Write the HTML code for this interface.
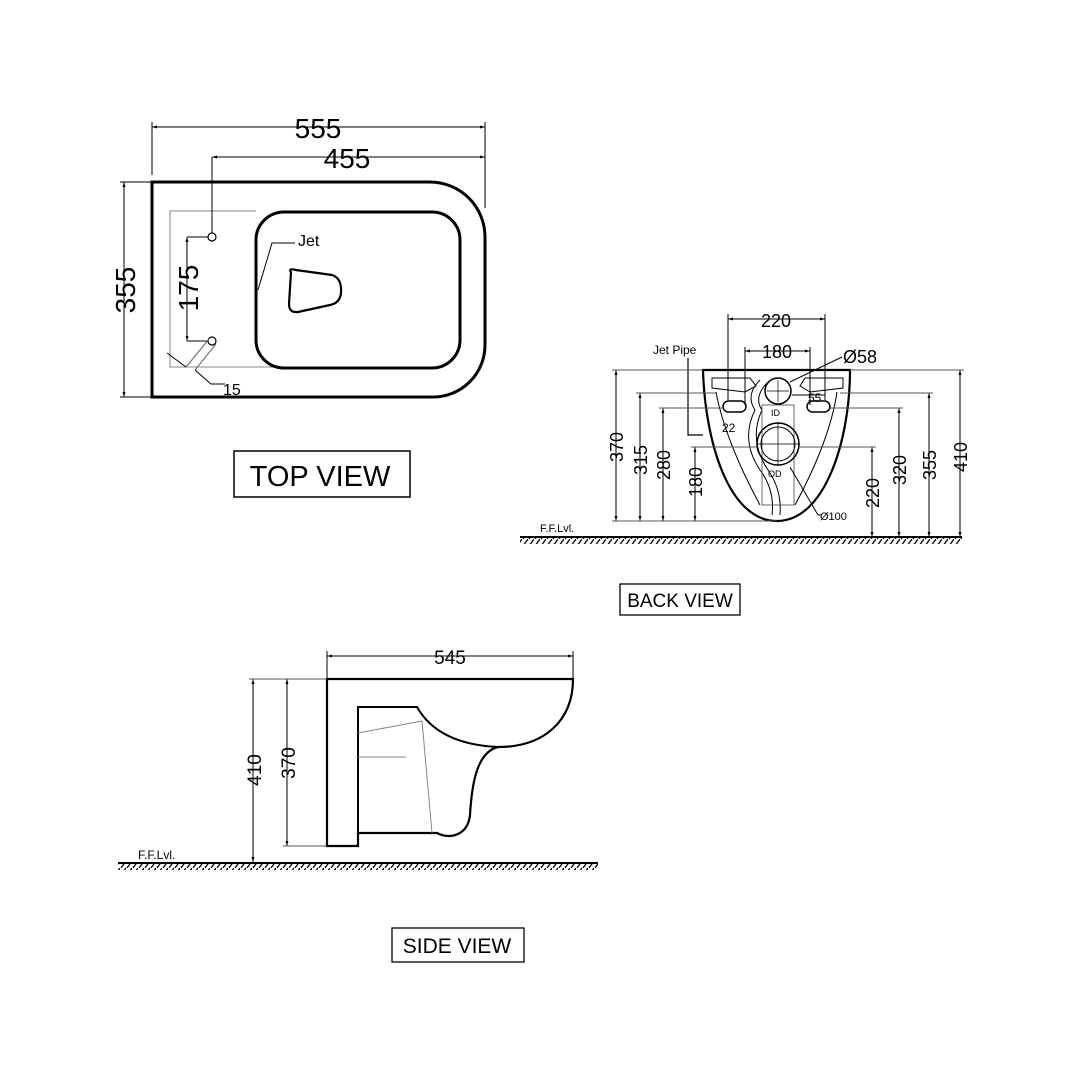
<!DOCTYPE html>
<html><head><meta charset="utf-8"><style>
html,body{margin:0;padding:0;background:#fff}
svg{display:block;font-family:"Liberation Sans",sans-serif}
</style></head><body>
<svg width="1080" height="1080" viewBox="0 0 1080 1080" xmlns="http://www.w3.org/2000/svg">
<defs>
<marker id="a" viewBox="0 0 10 10" refX="10" refY="5" markerWidth="7" markerHeight="5" orient="auto-start-reverse"><path d="M0,2 L10,5 L0,8z" fill="#000"/></marker>
<pattern id="h" width="6" height="7" patternUnits="userSpaceOnUse"><path d="M6,0 L1,7" stroke="#000" stroke-width="1.3"/></pattern>
</defs>
<g fill="none" stroke="#000">
<!-- TOP VIEW -->
<path d="M152,182 H430 A55,55 0 0 1 485,237 V345 A52,52 0 0 1 433,397 H152 Z" stroke-width="3"/>
<path d="M256,211 H170 V367 H290" stroke="#888" stroke-width="1"/>
<rect x="256" y="212" width="204" height="156" rx="28" stroke-width="3"/>
<path d="M291,272 Q288,268 296,270 L332,275 Q342,278 341,293 Q340,303 330,305 L298,312 Q289,313 289,304 Z" stroke-width="2.2"/>
<line x1="152" y1="127" x2="485" y2="127" stroke-width="1" marker-start="url(#a)" marker-end="url(#a)"/>
<line x1="152" y1="122" x2="152" y2="175" stroke-width="1"/>
<line x1="485" y1="122" x2="485" y2="208" stroke-width="1"/>
<line x1="212" y1="157" x2="485" y2="157" stroke-width="1" marker-start="url(#a)" marker-end="url(#a)"/>
<line x1="212" y1="157" x2="212" y2="233" stroke-width="1"/>
<line x1="124" y1="182" x2="124" y2="397" stroke-width="1" marker-start="url(#a)" marker-end="url(#a)"/>
<line x1="120" y1="182" x2="152" y2="182" stroke-width="1"/>
<line x1="120" y1="397" x2="152" y2="397" stroke-width="1"/>
<line x1="187" y1="237" x2="187" y2="341" stroke-width="1" marker-start="url(#a)" marker-end="url(#a)"/>
<line x1="187" y1="237" x2="208" y2="237" stroke-width="1"/>
<line x1="187" y1="341" x2="208" y2="341" stroke-width="1"/>
<circle cx="212" cy="237" r="4" stroke-width="1.2"/>
<circle cx="212" cy="341" r="4" stroke-width="1.2"/>
<path d="M209,339 L186,367 M216,344 L195,370" stroke="#666" stroke-width="1"/>
<path d="M167,353 L186,367 M195,370 L211,384 H225" stroke-width="1"/>
<path d="M258,290 L272,243 H295" stroke-width="1"/>
<text x="318" y="138" font-size="28" fill="#000" stroke="none" text-anchor="middle">555</text>
<text x="347" y="168" font-size="28" fill="#000" stroke="none" text-anchor="middle">455</text>
<text transform="translate(135,290) rotate(-90)" font-size="28" fill="#000" stroke="none" text-anchor="middle">355</text>
<text transform="translate(198,288) rotate(-90)" font-size="28" fill="#000" stroke="none" text-anchor="middle">175</text>
<text x="298" y="246" font-size="16" fill="#000" stroke="none">Jet</text>
<text x="223" y="395" font-size="16" fill="#000" stroke="none">15</text>
<rect x="234" y="451" width="176" height="46" stroke-width="1.5"/>
<text x="320" y="486" font-size="29" fill="#000" stroke="none" text-anchor="middle">TOP VIEW</text>

<!-- BACK VIEW -->
<path d="M703,370 H850 C850,440 825,521 777,521 C728,521 705,440 703,370 Z" stroke-width="2.2"/>
<path d="M712,378 L750,378 L756,386 L745,392 L712,388 Z M843,378 L805,378 L800,386 L810,392 L843,388 Z" stroke-width="1"/>
<path d="M716,392 Q725,440 760,505 M837,392 Q830,440 795,505" stroke-width="1"/>
<path d="M760,380 Q745,395 755,410 Q740,440 760,470 Q775,490 772,515 M768,382 Q753,397 762,410 Q748,440 768,470 Q782,490 780,515" stroke-width="1"/>
<rect x="762" y="405" width="32" height="100" stroke="#444" stroke-width="0.8"/>
<circle cx="778" cy="391" r="13" stroke-width="1.5"/>
<circle cx="778" cy="444" r="21" stroke-width="1.5"/>
<circle cx="778" cy="444" r="17" stroke-width="1"/>
<path d="M756,444 H800 M778,422 V466 M767,391 H789 M778,380 V402" stroke-width="0.7"/>
<rect x="723" y="401" width="23" height="11" rx="5.5" stroke-width="1.5"/>
<rect x="807" y="401" width="23" height="11" rx="5.5" stroke-width="1.5"/>
<path d="M688,358 V435 H703" stroke-width="1.2"/>
<g stroke-width="1">
<line x1="616" y1="370" x2="616" y2="521" marker-start="url(#a)" marker-end="url(#a)"/>
<line x1="640" y1="393" x2="640" y2="521" marker-start="url(#a)" marker-end="url(#a)"/>
<line x1="663" y1="408" x2="663" y2="521" marker-start="url(#a)" marker-end="url(#a)"/>
<line x1="695" y1="447" x2="695" y2="521" marker-start="url(#a)" marker-end="url(#a)"/>
<line x1="872" y1="447" x2="872" y2="537" marker-start="url(#a)" marker-end="url(#a)"/>
<line x1="899" y1="408" x2="899" y2="537" marker-start="url(#a)" marker-end="url(#a)"/>
<line x1="929" y1="393" x2="929" y2="537" marker-start="url(#a)" marker-end="url(#a)"/>
<line x1="960" y1="370" x2="960" y2="537" marker-start="url(#a)" marker-end="url(#a)"/>
<path d="M612,370 H703 M850,370 H964 M636,393 H716 M840,393 H933 M659,408 H723 M830,408 H903 M691,447 H757 M799,447 H876 M612,521 H777" stroke="#555"/>
<line x1="728" y1="319" x2="825" y2="319" marker-start="url(#a)" marker-end="url(#a)"/>
<path d="M728,314 V400 M825,314 V400"/>
<line x1="745" y1="351" x2="810" y2="351" marker-start="url(#a)" marker-end="url(#a)"/>
<path d="M745,347 V405 M810,347 V405"/>
<path d="M842,357 L790,382"/>
<path d="M790,467 L818,515 H822"/>
<path d="M792,395 H825"/>
</g>
<line x1="520" y1="537" x2="962" y2="537" stroke-width="2"/>
<rect x="520" y="538" width="442" height="6" fill="url(#h)" stroke="none"/>
<text x="776" y="327" font-size="18" fill="#000" stroke="none" text-anchor="middle">220</text>
<text x="777" y="358" font-size="18" fill="#000" stroke="none" text-anchor="middle">180</text>
<text x="843" y="363" font-size="18" fill="#000" stroke="none">Ø58</text>
<text x="653" y="354" font-size="12" fill="#000" stroke="none">Jet Pipe</text>
<text x="808" y="402" font-size="12" fill="#000" stroke="none">55</text>
<text x="722" y="432" font-size="12" fill="#000" stroke="none">22</text>
<text x="771" y="416" font-size="9" fill="#000" stroke="none">ID</text>
<text x="768" y="477" font-size="9" fill="#000" stroke="none">OD</text>
<text x="820" y="520" font-size="11" fill="#000" stroke="none">Ø100</text>
<text x="540" y="532" font-size="11" fill="#000" stroke="none">F.F.Lvl.</text>
<g font-size="18" fill="#000" stroke="none" text-anchor="middle">
<text transform="translate(623,447) rotate(-90)">370</text>
<text transform="translate(647,460) rotate(-90)">315</text>
<text transform="translate(670,465) rotate(-90)">280</text>
<text transform="translate(702,482) rotate(-90)">180</text>
<text transform="translate(879,493) rotate(-90)">220</text>
<text transform="translate(906,470) rotate(-90)">320</text>
<text transform="translate(936,465) rotate(-90)">355</text>
<text transform="translate(967,457) rotate(-90)">410</text>
</g>
<rect x="620" y="584" width="120" height="31" stroke-width="1.3"/>
<text x="680" y="607" font-size="19" fill="#000" stroke="none" text-anchor="middle">BACK VIEW</text>

<!-- SIDE VIEW -->
<path d="M327,679 H573 C573,720 545,747 498,747 C478,752 472,780 470,815 C468,835 450,840 437,833 L358,833 V846 H327 Z" stroke-width="2.2"/>
<path d="M358,846 V707 H417 C430,730 455,745 498,747" stroke-width="2"/>
<path d="M358,733 L422,721 L432,833 M358,757 H406" stroke="#888" stroke-width="1"/>
<line x1="327" y1="656" x2="573" y2="656" stroke-width="1" marker-start="url(#a)" marker-end="url(#a)"/>
<path d="M327,651 V679 M573,651 V679" stroke-width="1"/>
<line x1="253" y1="679" x2="253" y2="862" stroke-width="1" marker-start="url(#a)" marker-end="url(#a)"/>
<line x1="287" y1="679" x2="287" y2="846" stroke-width="1" marker-start="url(#a)" marker-end="url(#a)"/>
<path d="M249,679 H327 M283,846 H327" stroke="#555" stroke-width="1"/>
<line x1="118" y1="863" x2="598" y2="863" stroke-width="2"/>
<rect x="118" y="864" width="480" height="6" fill="url(#h)" stroke="none"/>
<text x="138" y="859" font-size="12" fill="#000" stroke="none">F.F.Lvl.</text>
<text x="450" y="664" font-size="19" fill="#000" stroke="none" text-anchor="middle">545</text>
<text transform="translate(261,770) rotate(-90)" font-size="19" fill="#000" stroke="none" text-anchor="middle">410</text>
<text transform="translate(295,763) rotate(-90)" font-size="19" fill="#000" stroke="none" text-anchor="middle">370</text>
<rect x="392" y="928" width="132" height="34" stroke-width="1.3"/>
<text x="457" y="953" font-size="21" fill="#000" stroke="none" text-anchor="middle">SIDE VIEW</text>
</g>
</svg>
</body></html>
